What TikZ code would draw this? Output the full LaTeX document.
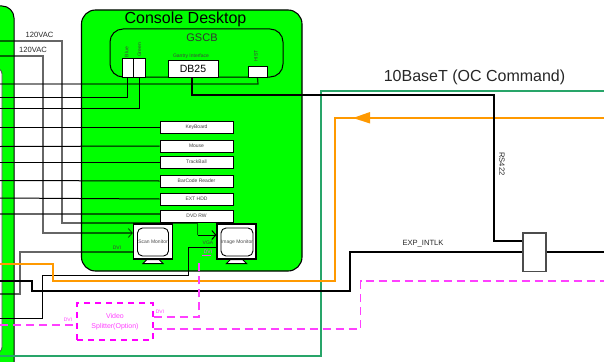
\documentclass[tikz,border=0pt]{standalone}
\usepackage{fontspec}
\setmainfont{Liberation Sans}
\usetikzlibrary{arrows.meta}
\definecolor{pgreen}{RGB}{0,255,0}
\definecolor{oc}{RGB}{255,153,0}
\definecolor{teal2}{RGB}{40,165,105}
\definecolor{mag}{RGB}{255,0,255}
\tikzset{
 lbl/.style={inner sep=0pt,text=black!85,font=\fontsize{7.6}{8}\selectfont},
 tiny2/.style={inner sep=0pt,text=black!75,font=\fontsize{5}{6}\selectfont},
 whitebox/.style={draw=black,line width=1pt,fill=white,inner sep=0pt,text=black!75},
 devbox/.style={whitebox,minimum width=73pt,minimum height=12pt,font=\fontsize{5}{6}\selectfont},
 wire/.style={draw=black,line width=1pt,line join=miter},
 gwire/.style={draw=black,draw opacity=0.6,line width=1.2pt},
 hwire/.style={draw=black,draw opacity=0.75,line width=1.2pt},
 thick2/.style={draw=black,line width=2pt},
 orangew/.style={draw=oc,line width=2pt},
 tealw/.style={draw=teal2,line width=2pt},
 magw/.style={draw=mag!75,line width=1.2pt,dash pattern=on 8pt off 5pt},
 screen/.style={draw=black,line width=0.9pt,fill=white,rounded corners=5pt,minimum width=31pt,minimum height=28pt,inner sep=0pt,text=black!70,font=\fontsize{5}{6}\selectfont},
 monitor/.style={draw=black,line width=1.1pt,fill=white,minimum width=39pt,minimum height=35pt,inner sep=0pt},
 opentip/.style={-{Straight Barb[length=4pt,width=9pt,line width=1pt]}},
}
\begin{document}
\begin{tikzpicture}[x=1pt,y=-1pt]
\useasboundingbox (0,0) rectangle (604,361);
\clip (0,0) rectangle (604,361);
% left panel
\draw[fill=pgreen,line width=1pt,rounded corners=12pt] (-40,6) rectangle (14,375);
\draw[fill=white,draw=black!70,line width=0.8pt,rounded corners=6pt] (-40,68) rectangle (2,353);
% console
\node[draw=black,line width=1.1pt,fill=pgreen,rounded corners=14pt,minimum width=220.5pt,minimum height=261pt,inner sep=0pt] (console) at (191.75,140.5) {};
\node[inner sep=0pt,font=\fontsize{16}{17}\selectfont,text=black] (ctitle) at (185.5,19) {Console Desktop};
\node[draw=black,line width=1pt,rounded corners=13pt,minimum width=173pt,minimum height=48pt,inner sep=0pt] (gscb) at (196.5,53) {};
\node[inner sep=0pt,font=\fontsize{11}{12}\selectfont,text=black!80] (gscbt) at (202,38) {GSCB};
% free ends
\foreach \n/\y in {l84/84,l97/97,l108/108,l127/127,l146/146.5,l162/162,l181/180.5,l198/198,l214/214,lac1/41,lac2/56,ldvi/294,lvga/318,ldash/325,lor/264,lblk/281}
  \coordinate (\n) at (0,\y);
\foreach \n/\y in {rteal/91,ror/118,rblk/252,rdash/281}
  \coordinate (\n) at (604,\y);
\coordinate (lteal) at (0,356);
% device boxes
\node[whitebox,minimum width=11.5pt,minimum height=19pt] (blue) at (127.75,67.5) {};
\node[whitebox,minimum width=11.5pt,minimum height=19pt] (green) at (139.25,67.5) {};
\node[whitebox,minimum width=50pt,minimum height=17pt,text=black,font=\fontsize{10.5}{11}\selectfont] (db) at (193,68.5) {DB25};
\node[whitebox,minimum width=19pt,minimum height=11pt] (hist) at (257.5,71.5) {};
\node[tiny2,rotate=90] (bluet) at (126.5,52) {Blue};
\node[tiny2,rotate=90] (greent) at (139.5,50) {Green};
\node[tiny2] (gi) at (191,56) {Gantry Interface};
\node[tiny2,rotate=90] (histt) at (256,56) {HIST};
\node[devbox] (kb) at (196.5,127) {KeyBoard};
\node[devbox] (mouse) at (196.5,146) {Mouse};
\node[devbox] (tb) at (196.5,162) {TrackBall};
\node[devbox] (bar) at (196.5,181) {BarCode Reader};
\node[devbox] (hdd) at (196.5,199) {EXT HDD};
\node[devbox] (dvd) at (196.5,216) {DVD RW};
% monitors
\node[monitor] (scan) at (153,241.5) {};
\node[screen] (scans) at (153,242) {Scan Monitor};
\draw[fill=white,line width=0.9pt] (scan.south)++(-6,0) -- ++(-4,4) -- ++(20,0) -- ++(-4,-4) -- cycle;
\node[monitor] (img) at (236.5,241.5) {};
\node[screen] (imgs) at (237,242) {Image Monitor};
\draw[fill=white,line width=0.9pt] (img.south)++(-6,0) -- ++(-4,4) -- ++(20,0) -- ++(-4,-4) -- cycle;
% gantry wires
\draw[hwire] (hist.south) -- (258,84) -- (l84);
\draw[wire] (blue.south) -- (127.75,97) -- (l97);
\draw[wire] (green.south) -- (139.25,108) -- (l108);
\draw[wire] (l127) -- (kb.west);
\draw[wire] (l146) -- (mouse.west);
\draw[wire] (l162) -- (tb.west);
\draw[wire] (l181) -- (bar.west);
\draw[wire] (l198) -- (hdd.west);
\draw[gwire] (l214) -- (dvd.west |- l214);
% 120VAC
\draw[gwire] (lac1) -- (62,41) -- (62,223) -- (197.5,223) -- (197.5,235);
\draw[wire,opentip] (197.5,235) -- (img.west |- 0,235);
\draw[gwire,opentip] (lac2) -- (43,56) -- (43,233) -- (scan.west |- 0,233);
\node[lbl] (ac1) at (39.5,35) {120VAC};
\node[lbl] (ac2) at (33,50) {120VAC};
% video wires
\draw[gwire] (scan.west |- 0,252) -- (20,252) -- (20,294) -- (ldvi);
\draw[wire] (img.west |- 0,247) -- (188.5,247) -- (188.5,275) -- (42,275) -- (42,318) -- (lvga);
\node[tiny2] (dvi1) at (117,248) {DVI};
\node[tiny2] (vga) at (208,243) {VGA};
\node[tiny2,text=mag!75] (dvi2) at (208,252) {DVI};
\draw[mag!75,line width=0.8pt] (202,255.5) -- (211,255.5);
% teal, orange, thick black
\draw[tealw] (rteal) -- (321,91) -- (321,356) -- (lteal);
\draw[orangew] (ror) -- (335,118) -- (335,281) -- (53,281) -- (53,264) -- (lor);
\coordinate (otip) at (353,118);
\fill[oc] (otip) -- (370,112) -- (370,123.5) -- cycle;
\node[draw=black!70,line width=1.1pt,fill=white,minimum width=23pt,minimum height=38.5pt,inner sep=0pt] (intlk) at (534.5,252.25) {};
\draw[thick2] (192,77) -- (192,95) -- (494,95) -- (494,240.5) -- (intlk.west |- 0,240.5);
\draw[thick2] (lblk) -- (31.5,281) -- (31.5,290.5) -- (350,290.5) -- (350,252) -- (intlk.west |- 0,252);
\draw[thick2] (intlk.east |- 0,252) -- (rblk);
% labels right
\node[inner sep=0pt,font=\fontsize{16}{17}\selectfont,text=black!85] (base) at (474.5,77) {10BaseT (OC Command)};
\node[lbl,rotate=-90] (rs) at (502,164) {RS422};
\node[lbl] (exp) at (423,244) {EXP\_INTLK};
% splitter
\node[draw=mag,line width=1.2pt,dash pattern=on 6pt off 5pt,minimum width=76pt,minimum height=37pt,inner sep=0pt,text=mag!75,align=center,font=\fontsize{7}{10}\selectfont] (split) at (115,321.5) {Video\\Splitter(Option)};
\draw[magw] (ldash) -- (split.west |- 0,325);
\draw[magw] (split.east |- 0,317) -- (199,317) -- (199,259);
\draw[magw] (split.east |- 0,329) -- (360.5,329) -- (360.5,281) -- (rdash);
\node[tiny2,text=mag!75] (dvi3) at (68,320) {DVI};
\node[tiny2,text=mag!75] (dvi4) at (160,312) {DVI};
\end{tikzpicture}
\end{document}
